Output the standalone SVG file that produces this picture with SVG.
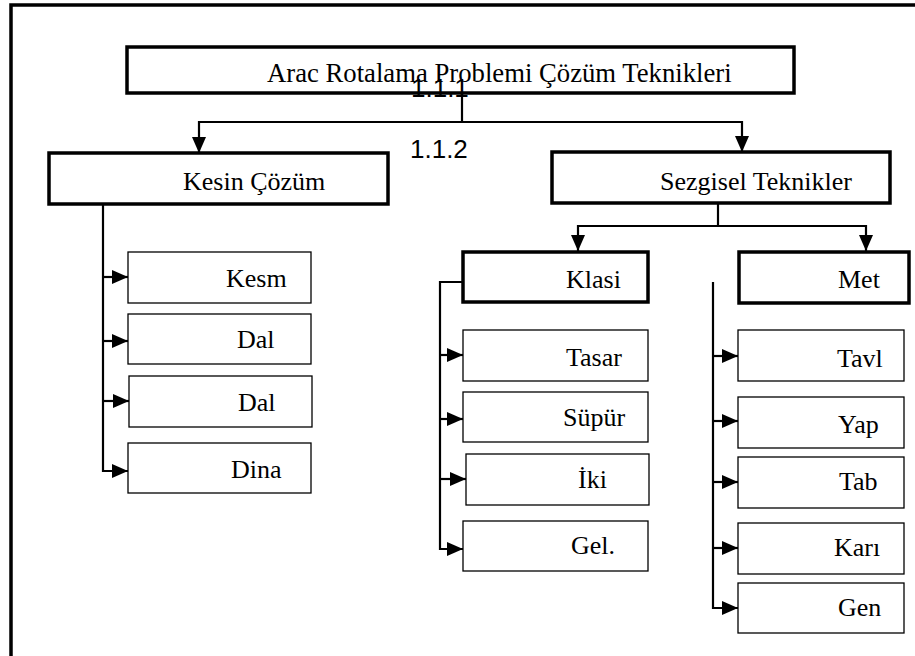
<svg xmlns="http://www.w3.org/2000/svg" width="915" height="656" viewBox="0 0 915 656">
<defs>
<marker id="ah" viewBox="0 0 16 14" refX="16" refY="7" markerWidth="16" markerHeight="14" markerUnits="userSpaceOnUse" orient="auto">
<path d="M0,0 L16,7 L0,14 z" fill="#000"/>
</marker>
</defs>
<style>
.thick{fill:#fff;stroke:#000;stroke-width:3.5}
.thin{fill:#fff;stroke:#000;stroke-width:1.3}
.lbl{font-family:"Liberation Serif","Times New Roman",serif;font-size:26px;fill:#000}
.num{font-family:"Liberation Sans",Arial,sans-serif;font-size:26px;fill:#000}
.conn path{fill:none;stroke:#000;stroke-width:2.2}
.frame{fill:none;stroke:#000;stroke-width:3.5}
</style>
<rect width="915" height="656" fill="#fff"/>
<path class="frame" d="M11,656 V5 H915"/>

<g id="connectors" class="conn">
<path d="M462,93 V122"/>
<path d="M462,122 H199 V153" marker-end="url(#ah)"/>
<path d="M462,122 H742 V152" marker-end="url(#ah)"/>
<path d="M103,204 V471 H128" marker-end="url(#ah)"/>
<path d="M103,277 H128" marker-end="url(#ah)"/>
<path d="M103,341 H128" marker-end="url(#ah)"/>
<path d="M103,401 H129" marker-end="url(#ah)"/>
<path d="M718,203 V226"/>
<path d="M718,226 H578 V251" marker-end="url(#ah)"/>
<path d="M718,226 H866 V251" marker-end="url(#ah)"/>
<path d="M463,282 H440 V549 H463" marker-end="url(#ah)"/>
<path d="M440,355 H463" marker-end="url(#ah)"/>
<path d="M440,419 H463" marker-end="url(#ah)"/>
<path d="M440,479 H466" marker-end="url(#ah)"/>
<path d="M713,282 V608 H738" marker-end="url(#ah)"/>
<path d="M713,356 H738" marker-end="url(#ah)"/>
<path d="M713,421 H738" marker-end="url(#ah)"/>
<path d="M713,482 H738" marker-end="url(#ah)"/>
<path d="M713,548 H738" marker-end="url(#ah)"/>
</g>

<g id="root">
<rect class="thick" x="127" y="47" width="667" height="46"/>
<text class="lbl" x="267" y="82" style="font-size:26.7px">Arac Rotalama Problemi Çözüm Teknikleri</text>
</g>
<text class="num" x="411" y="97">1.1.1</text>
<text class="num" x="410" y="158">1.1.2</text>

<g id="kesin">
<rect class="thick" x="49" y="153" width="339" height="51"/>
<text class="lbl" x="183" y="190">Kesin Çözüm</text>
</g>
<g id="sezgisel">
<rect class="thick" x="552" y="152" width="338" height="51"/>
<text class="lbl" x="660" y="190">Sezgisel Teknikler</text>
</g>

<g id="kesm"><rect class="thin" x="128" y="252" width="183" height="51"/><text class="lbl" x="226" y="287">Kesm</text></g>
<g id="dal1"><rect class="thin" x="128" y="314" width="183" height="50"/><text class="lbl" x="237" y="348">Dal</text></g>
<g id="dal2"><rect class="thin" x="129" y="376" width="183" height="51"/><text class="lbl" x="238" y="411">Dal</text></g>
<g id="dina"><rect class="thin" x="128" y="443" width="183" height="50"/><text class="lbl" x="231" y="478">Dina</text></g>

<g id="klasi">
<rect class="thick" x="463" y="252" width="185" height="50"/>
<text class="lbl" x="566" y="288">Klasi</text>
</g>
<g id="met">
<rect class="thick" x="739" y="252" width="170" height="51"/>
<text class="lbl" x="838" y="288">Met</text>
</g>

<g id="tasar"><rect class="thin" x="463" y="330" width="185" height="51"/><text class="lbl" x="566" y="366">Tasar</text></g>
<g id="supur"><rect class="thin" x="463" y="392" width="185" height="50"/><text class="lbl" x="563" y="426">Süpür</text></g>
<g id="iki"><rect class="thin" x="466" y="454" width="183" height="51"/><text class="lbl" x="578" y="488">İki</text></g>
<g id="gel"><rect class="thin" x="463" y="521" width="185" height="50"/><text class="lbl" x="571" y="554">Gel.</text></g>

<g id="tavl"><rect class="thin" x="738" y="330" width="166" height="51"/><text class="lbl" x="837" y="367">Tavl</text></g>
<g id="yap"><rect class="thin" x="738" y="397" width="166" height="51"/><text class="lbl" x="838" y="433">Yap</text></g>
<g id="tab"><rect class="thin" x="738" y="457" width="166" height="51"/><text class="lbl" x="839" y="490">Tab</text></g>
<g id="kari"><rect class="thin" x="738" y="523" width="166" height="51"/><text class="lbl" x="834" y="556">Karı</text></g>
<g id="gen"><rect class="thin" x="738" y="583" width="166" height="50"/><text class="lbl" x="838" y="616">Gen</text></g>
</svg>
